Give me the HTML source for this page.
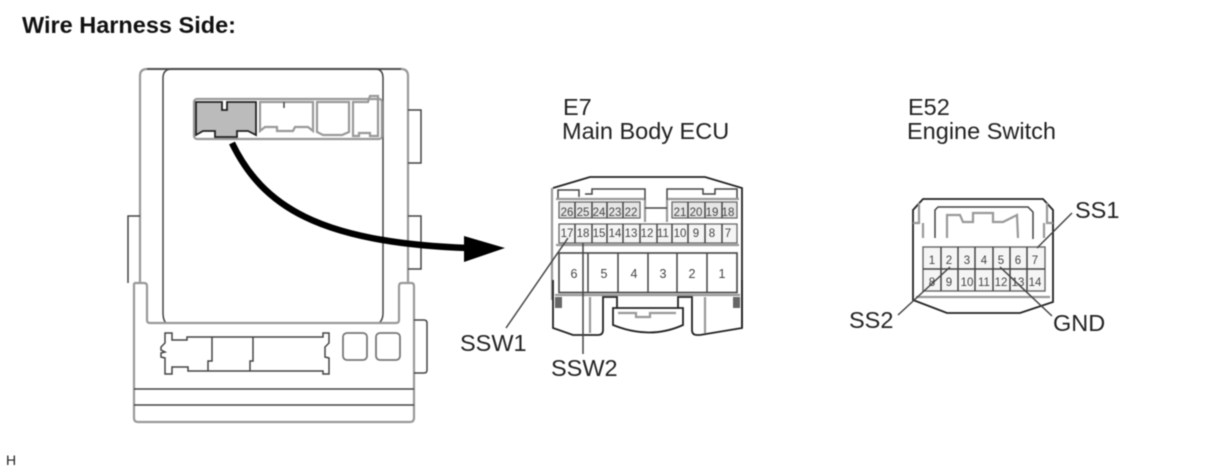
<!DOCTYPE html>
<html><head><meta charset="utf-8"><style>
html,body{margin:0;padding:0;background:#fff;width:1210px;height:474px;overflow:hidden}
svg{display:block;filter:blur(.5px)}
text{font-family:"Liberation Sans",sans-serif;fill:#222}
.k{stroke:#444;fill:none;stroke-width:1.5}
.g{stroke:#999;fill:none;stroke-width:2.2}
.d{stroke:#222;fill:none;stroke-width:1.8}
.l{font-size:23.5px}
.n{font-size:11.5px;text-anchor:middle;fill:#444}
.m{font-size:12.5px;text-anchor:middle;fill:#444}
</style></head><body>
<svg width="1210" height="474" viewBox="0 0 1210 474" xmlns="http://www.w3.org/2000/svg">
<text x="22" y="33" font-size="23.5" font-weight="bold" style="fill:#111">Wire Harness Side:</text>
<text x="6" y="465" font-size="14">H</text>

<!-- left housing -->
<path class="g" d="M140 283V76q0-7 7-7H401q7 0 7 7V283"/>
<path class="k" d="M147 69H401"/>
<path class="k" d="M166 323q-3-3-3-10V78q0-9 9-9H375q8 0 8 9V313q0 7-4 10"/>
<path class="k" d="M128 283V216H140M408 110H421V163H408M408 216H421V269H408"/>
<path class="g" d="M134 283V418q0 4 4 4H410q4 0 4-4V286q0-3-3-3H402q-3 0-3 3V320q0 3-3 3H150q-3 0-3-3V286q0-3-3-3H134"/>
<path class="k" d="M414 320H424q3 0 3 3V370q0 3-3 3H414"/>
<path class="k" d="M134 389H414M134 405H414"/>
<rect x="343" y="333" width="24" height="27" rx="4" fill="none" stroke="#777" stroke-width="1.8"/>
<rect x="376" y="333" width="24" height="27" rx="4" fill="none" stroke="#777" stroke-width="1.8"/>
<path class="k" d="M187 337H323V333H329V343L325 347V357L329 358V374H323V371H188V367H172V374H165V358L161 357V353L165 352L161 350V347L165 343V333H172V340H187Z"/>
<path class="k" d="M212 337V361H208V371M253 337V361H250V371"/>

<!-- small connector row -->
<rect x="194" y="99" width="188" height="40" rx="3" fill="#fff" stroke="#999" stroke-width="2.2"/>
<path d="M196 102H222V110H227V102H256V135L248 131H237V137H215V131H203L196 135Z" fill="#bbb" stroke="#222" stroke-width="1.8"/>
<path class="g" d="M260 102H313V131L308 127H295L293 131H277V127H265L260 131Z"/>
<path class="k" d="M284 102V108"/>
<path class="g" d="M317 102H349V132L342 135H323L317 132Z"/>
<path class="g" d="M353 102H368L370 96H378V136H370V133H359V136H353Z"/>

<!-- curved arrow -->
<path d="M232 143C262 205 318 243 468 248" fill="none" stroke="#000" stroke-width="6.5"/>
<path d="M464 236L505 248L464 262Z" fill="#000"/>

<!-- E7 -->
<text class="l" x="563" y="115">E7</text>
<text class="l" x="562" y="139">Main Body ECU</text>
<path d="M553 188L590 177H705L742 188V328" fill="none" stroke="#222" stroke-width="1.8"/>
<path class="g" d="M552 188V300"/>
<path class="d" d="M553 280V328L573 335H598Q603 335 603 330V297H617V308"/>
<path class="d" d="M742 280V328L700 335H697Q692 335 692 330V297H678V308"/>
<path class="d" d="M613 308H683V325Q650 340 613 325Z"/>
<path class="g" d="M618 313H636V317H650V313H676"/>
<rect x="555" y="297" width="7" height="11" fill="#666"/><rect x="733" y="297" width="7" height="11" fill="#666"/>
<path class="g" d="M590 297V333M705 297V333"/>
<path class="k" d="M558 198V190H579V197M585 194H592V189H645V222M667 222V189H703V194H715V189H737V198"/>
<path class="g" d="M556 199H644M668 199H739M645 200V222M667 200V222" stroke-width="3"/>
<path class="k" d="M645 208H667"/>
<!-- top row -->
<path d="M559 202H640V218H559ZM672 202H737V218H672Z" fill="#e6e6e6" stroke="#666" stroke-width="1.3"/>
<path class="k" stroke="#666" d="M575 202V218M592 202V218M607 202V218M623 202V218M688 202V218M705 202V218M722 202V218"/>
<!-- second row -->
<path d="M559 224H737V243H559Z" fill="#f5f5f5" stroke="#666" stroke-width="1.3"/>
<path class="k" d="M575 224V243M592 224V243M607 224V243M623 224V243M640 224V243M657 224V243M672 224V243M688 224V243M705 224V243M722 224V243"/>
<path class="g" d="M556 245H739" stroke-width="3"/>
<text class="n" x="567" y="216">26</text><text class="n" x="583" y="216">25</text><text class="n" x="599" y="216">24</text><text class="n" x="615" y="216">23</text><text class="n" x="631" y="216">22</text><text class="n" x="680" y="216">21</text><text class="n" x="696" y="216">20</text><text class="n" x="712" y="216">19</text><text class="n" x="728" y="216">18</text>
<text class="n" x="567" y="237">17</text><text class="n" x="583" y="237">18</text><text class="n" x="599" y="237">15</text><text class="n" x="615" y="237">14</text><text class="n" x="631" y="237">13</text><text class="n" x="647" y="237">12</text><text class="n" x="663" y="237">11</text><text class="n" x="680" y="237">10</text><text class="n" x="696" y="237">9</text><text class="n" x="712" y="237">8</text><text class="n" x="728" y="237">7</text>
<!-- big row -->
<rect x="559" y="253" width="178" height="39.5" fill="#fff" stroke="#444" stroke-width="1.6"/>
<path class="k" d="M588 253V293M618 253V293M648 253V293M677 253V293M707 253V293"/>
<path class="g" d="M555 295H740" stroke-width="3"/>
<text class="m" x="574" y="278">6</text><text class="m" x="604" y="278">5</text><text class="m" x="634" y="278">4</text><text class="m" x="663" y="278">3</text><text class="m" x="692" y="278">2</text><text class="m" x="722" y="278">1</text>
<path class="k" d="M568 238L506 328M583 243V354"/>
<text class="l" x="460" y="351">SSW1</text>
<text class="l" x="551" y="376">SSW2</text>

<!-- E52 -->
<text class="l" x="908" y="115">E52</text>
<text class="l" x="907" y="139">Engine Switch</text>
<path class="d" d="M913 300V210L923 199H1043L1053 210V302L1020 313H947Z"/>
<path class="g" d="M919 203V223H913M1047 203V223H1053"/>
<path class="g" d="M923 238V223M1044 238V223"/>
<path class="k" d="M935 238V210L938 207H1028L1033 212V239"/>
<path class="g" d="M947 238V215H960L963 222H973V213H993V222H1003L1017 215L1018 238"/>
<rect x="923" y="247" width="122" height="44" fill="#f5f5f5" stroke="#666" stroke-width="1.4"/>
<path class="g" d="M916 297H1050" stroke-width="2.5"/>
<path class="k" stroke="#666" d="M923 269H1045M941 247V291M958 247V291M975 247V291M993 247V291M1010 247V291M1027 247V291"/>
<text class="n" x="932" y="264">1</text><text class="n" x="949" y="264">2</text><text class="n" x="967" y="264">3</text><text class="n" x="984" y="264">4</text><text class="n" x="1001" y="264">5</text><text class="n" x="1018" y="264">6</text><text class="n" x="1035" y="264">7</text>
<text class="n" x="932" y="286">8</text><text class="n" x="949" y="286">9</text><text class="n" x="967" y="286">10</text><text class="n" x="984" y="286">11</text><text class="n" x="1001" y="286">12</text><text class="n" x="1018" y="286">13</text><text class="n" x="1035" y="286">14</text>
<path class="k" d="M1037 248L1072 213M950 267L898 315M1000 267L1052 316"/>
<text class="l" x="1075" y="218">SS1</text>
<text class="l" x="849" y="328">SS2</text>
<text class="l" x="1053" y="331">GND</text>
</svg>
</body></html>
